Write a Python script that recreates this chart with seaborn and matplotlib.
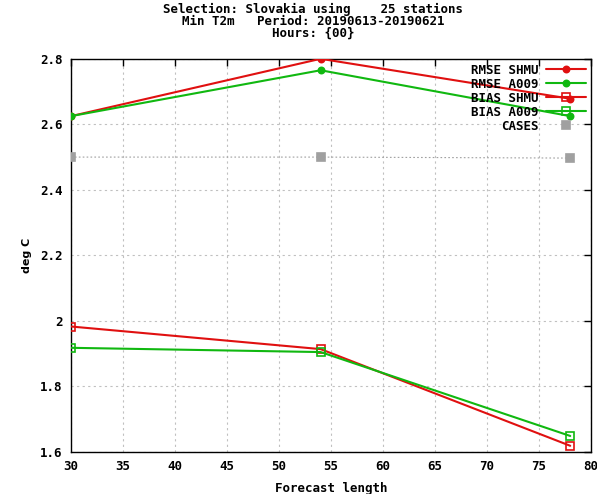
import matplotlib
matplotlib.use("Agg")
import matplotlib.pyplot as plt
import seaborn as sns
import pandas as pd
from matplotlib.lines import Line2D

# Verification scores for minimum 2 m temperature
lead_hours = [30, 54, 78]
rmse_shmu = [2.625, 2.800, 2.678]
rmse_a009 = [2.625, 2.765, 2.625]
bias_shmu = [1.983, 1.914, 1.619]
bias_a009 = [1.918, 1.905, 1.649]
cases = [2.500, 2.500, 2.497]

series_names = ["RMSE SHMU", "RMSE A009", "BIAS SHMU", "BIAS A009", "CASES"]
series_values = [rmse_shmu, rmse_a009, bias_shmu, bias_a009, cases]

x_ticks = [30, 35, 40, 45, 50, 55, 60, 65, 70, 75, 80]
y_ticks = [1.6, 1.8, 2.0, 2.2, 2.4, 2.6, 2.8]
y_tick_labels = ["1.6", "1.8", "2", "2.2", "2.4", "2.6", "2.8"]

rows = []
for name, vals in zip(series_names, series_values):
    for x, v in zip(lead_hours, vals):
        rows.append({"Forecast length": x, "value": v, "series": name})
df = pd.DataFrame(rows)

sns.set_style("white")
plt.rcParams["font.family"] = ["DejaVu Sans Mono"]
plt.rcParams["font.weight"] = "bold"
plt.rcParams["text.color"] = "black"
plt.rcParams["axes.labelcolor"] = "black"
plt.rcParams["xtick.color"] = "black"
plt.rcParams["ytick.color"] = "black"

RED = "#e01010"
GREEN = "#10b810"
GREY = "#a0a0a0"

styles = {
    "RMSE SHMU": dict(color=RED, marker="o", ms=4.5, mfc=RED, ls="-", lw=1.5),
    "RMSE A009": dict(color=GREEN, marker="o", ms=4.5, mfc=GREEN, ls="-", lw=1.5),
    "BIAS SHMU": dict(color=RED, marker="s", ms=6, mfc="none", ls="-", lw=1.5),
    "BIAS A009": dict(color=GREEN, marker="s", ms=6, mfc="none", ls="-", lw=1.5),
    "CASES": dict(color=GREY, marker="s", ms=6, mfc=GREY, ls=(0, (1.5, 2)), lw=0.8),
}

fig = plt.figure(figsize=(5.97, 4.94), dpi=100)
ax = fig.add_axes([0.119, 0.085, 0.871, 0.796])

for name in series_names:
    st = styles[name]
    sub = df[df["series"] == name]
    sns.lineplot(data=sub, x="Forecast length", y="value", ax=ax,
                 color=st["color"], linestyle=st["ls"], linewidth=st["lw"],
                 marker=st["marker"], markersize=st["ms"],
                 markerfacecolor=st["mfc"], markeredgecolor=st["color"],
                 markeredgewidth=1.2, legend=False, zorder=3)

ax.set_xlim(30, 80)
ax.set_ylim(1.6, 2.8)
ax.set_xticks(x_ticks)
ax.set_yticks(y_ticks)
ax.set_yticklabels(y_tick_labels)
ax.grid(True, color="#c0c0c0", linestyle=(0, (2, 3)), linewidth=0.8)
ax.tick_params(direction="in", length=5, width=1, top=True, right=True,
               labelsize=9, pad=6, colors="black")
for lab in ax.get_xticklabels() + ax.get_yticklabels():
    lab.set_fontweight("bold")
for sp in ax.spines.values():
    sp.set_color("black")
    sp.set_linewidth(1)

ax.set_xlabel("Forecast length", fontsize=9, fontweight="bold", labelpad=6,
              color="black")
ax.set_ylabel("deg C", fontsize=8, fontweight="bold", labelpad=6,
              family="DejaVu Sans", color="black")

fig.text(0.525, 0.980, "Selection: Slovakia using    25 stations",
         ha="center", va="center", fontsize=9, fontweight="bold", color="black")
fig.text(0.525, 0.956, "Min T2m   Period: 20190613-20190621",
         ha="center", va="center", fontsize=9, fontweight="bold", color="black")
fig.text(0.525, 0.932, "Hours: {00}",
         ha="center", va="center", fontsize=9, fontweight="bold", color="black")

handles = []
for name in series_names:
    st = styles[name]
    handles.append(Line2D([0], [0], color=st["color"], linestyle="-" if name != "CASES" else "none",
                          linewidth=st["lw"], marker=st["marker"], markersize=st["ms"],
                          markerfacecolor=st["mfc"], markeredgecolor=st["color"],
                          markeredgewidth=1.2))
leg = ax.legend(handles, series_names, loc="upper right", frameon=False,
                markerfirst=False, handlelength=3.2,
                handletextpad=0.6, labelspacing=0.08,
                borderaxespad=0.0, prop={"weight": "bold", "size": 9})
for t in leg.get_texts():
    t.set_ha("right")
    t.set_color("black")

fig.savefig("out.png", dpi=100)
